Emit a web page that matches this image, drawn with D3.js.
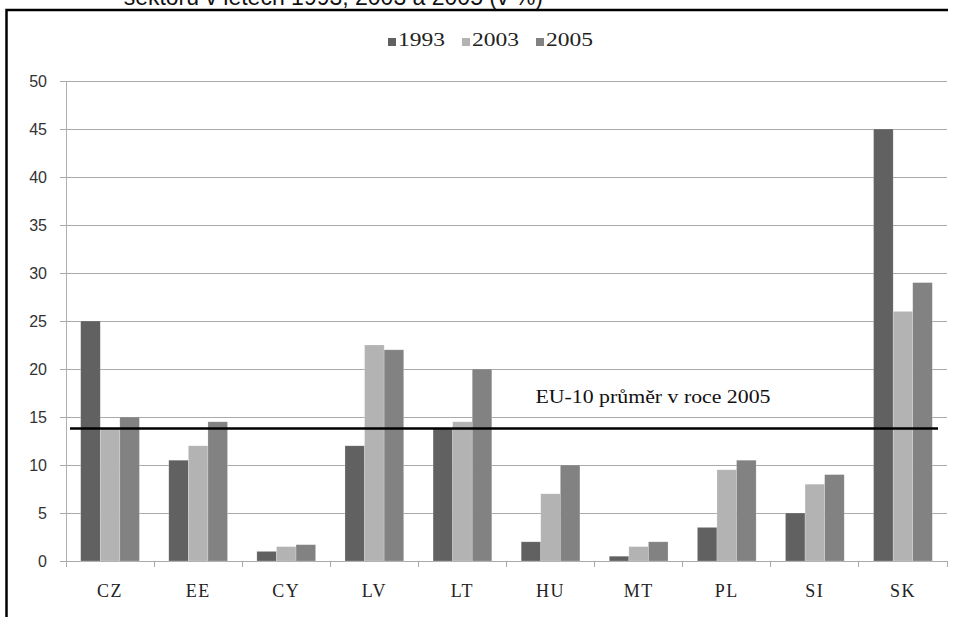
<!DOCTYPE html>
<html>
<head>
<meta charset="utf-8">
<script src="https://cdn.jsdelivr.net/npm/d3@7"></script>
<style>
  body { margin: 0; background: #fff; }
  svg { display: block; }
</style>
</head>
<body>
<div id="main"></div>
<script>
// data
const categories = ["CZ", "EE", "CY", "LV", "LT", "HU", "MT", "PL", "SI", "SK"];
const years = ["1993", "2003", "2005"];
const v1993 = [25, 10.5, 1, 12, 13.8, 2, 0.5, 3.5, 5, 45];
const v2003 = [13.8, 12, 1.5, 22.5, 14.5, 7, 1.5, 9.5, 8, 26];
const v2005 = [15, 14.5, 1.7, 22, 20, 10, 2, 10.5, 9, 29];
const yTicks = [0, 5, 10, 15, 20, 25, 30, 35, 40, 45, 50];
const avg2005 = 13.8;
const avgLabel = "EU-10 průměr v roce 2005";
const titleText = "sektoru v letech 1993, 2003 a 2005 (v %)";

const colors = {"1993": "#616161", "2003": "#b3b3b3", "2005": "#828282"};
const series = {"1993": v1993, "2003": v2003, "2005": v2005};

const W = 958, H = 617;
const plotLeft = 66, plotRight = 947, plotTop = 81, plotBottom = 561;

let x = d3.scaleBand()
	.domain(categories)
	.range([plotLeft, plotRight]);

// three bars per group, gap width 50% like Excel
let xs = d3.scaleBand()
	.domain(years)
	.range([0, x.bandwidth()])
	.paddingInner(0)
	.paddingOuter(0.75);

let y = d3.scaleLinear()
	.domain([0, 50])
	.range([plotBottom, plotTop]);

let svg = d3.select("#main")
	.append("svg")
		.attr("width", W)
		.attr("height", H);

// title, cut off at the top edge as in the source
svg.append("text")
	.attr("x", 543)
	.attr("y", 5)
	.attr("text-anchor", "end")
	.style("font-family", "Liberation Sans, Arial, sans-serif")
	.style("font-size", "23px")
	.style("fill", "#111")
	.text(titleText);

// frame (left + top border)
svg.append("path")
	.attr("d", `M6.5,${H} L6.5,10 L948,10`)
	.attr("fill", "none")
	.attr("stroke", "#000")
	.attr("stroke-width", 2.5);

// legend
let legend = svg.append("g");
years.forEach((yr, i) => {
	let lx = 388 + i * 74;
	legend.append("rect")
		.attr("x", lx)
		.attr("y", 38)
		.attr("width", 8)
		.attr("height", 8)
		.attr("fill", colors[yr]);
	legend.append("text")
		.attr("x", lx + 10)
		.attr("y", 45.5)
		.attr("textLength", 47)
		.attr("lengthAdjust", "spacingAndGlyphs")
		.style("font-family", "Liberation Serif, serif")
		.style("font-size", "18px")
		.style("fill", "#222")
		.text(yr);
});

// y grid + labels
let yAxis = svg.append("g")
	.attr("transform", `translate(60,0)`)
	.call(d3.axisLeft(y)
		.tickValues(yTicks)
		.tickSizeInner(-(plotRight - 60))
		.tickSizeOuter(0)
		.tickPadding(13));
yAxis.select(".domain").remove();
yAxis.selectAll(".tick line")
	.attr("stroke", "#aaaaaa")
	.attr("shape-rendering", "crispEdges");
yAxis.selectAll(".tick text")
	.style("font-family", "Liberation Sans, Arial, sans-serif")
	.style("font-size", "16px")
	.style("fill", "#333");

// vertical axis line
svg.append("line")
	.attr("x1", plotLeft).attr("x2", plotLeft)
	.attr("y1", plotTop).attr("y2", plotBottom + 6)
	.attr("stroke", "#b0b0b0")
	.attr("shape-rendering", "crispEdges");

// category tick marks on the x axis
let bounds = categories.map(c => x(c)).concat([x.range()[1]]);
svg.append("g")
	.selectAll("line")
	.data(bounds.slice(1))
	.enter()
	.append("line")
		.attr("x1", d => d).attr("x2", d => d)
		.attr("y1", plotBottom).attr("y2", plotBottom + 6)
		.attr("stroke", "#aaaaaa")
		.attr("shape-rendering", "crispEdges");

// bars
let groups = svg.append("g")
	.selectAll("g")
	.data(categories)
	.enter()
	.append("g")
		.attr("transform", d => `translate(${x(d)},0)`);

groups.selectAll("rect")
	.data((c, i) => years.map(yr => ({yr: yr, v: series[yr][i]})))
	.enter()
	.append("rect")
		.attr("x", d => xs(d.yr))
		.attr("y", d => y(d.v))
		.attr("width", xs.bandwidth())
		.attr("height", d => y(0) - y(d.v))
		.attr("fill", d => colors[d.yr])
		.attr("stroke", "rgba(255,255,255,0.35)")
		.attr("stroke-width", 0.6);

// category labels
svg.append("g")
	.selectAll("text")
	.data(categories)
	.enter()
	.append("text")
		.attr("x", d => x(d) + x.bandwidth() / 2)
		.attr("y", 597)
		.attr("text-anchor", "middle")
		.style("font-family", "Liberation Serif, serif")
		.style("font-size", "18px")
		.style("letter-spacing", "1.5px")
		.style("fill", "#222")
		.text(d => d);

// EU-10 average line
svg.append("line")
	.attr("x1", x.range()[0] + 4)
	.attr("x2", x.range()[1] - 9)
	.attr("y1", y(avg2005))
	.attr("y2", y(avg2005))
	.attr("stroke", "#000")
	.attr("stroke-width", 2.5);

svg.append("text")
	.attr("x", x("HU") + 29)
	.attr("y", y(avg2005) - 26)
	.attr("textLength", 235)
	.attr("lengthAdjust", "spacingAndGlyphs")
	.style("font-family", "Liberation Serif, serif")
	.style("font-size", "19px")
	.style("fill", "#111")
	.text(avgLabel);
</script>
</body>
</html>
